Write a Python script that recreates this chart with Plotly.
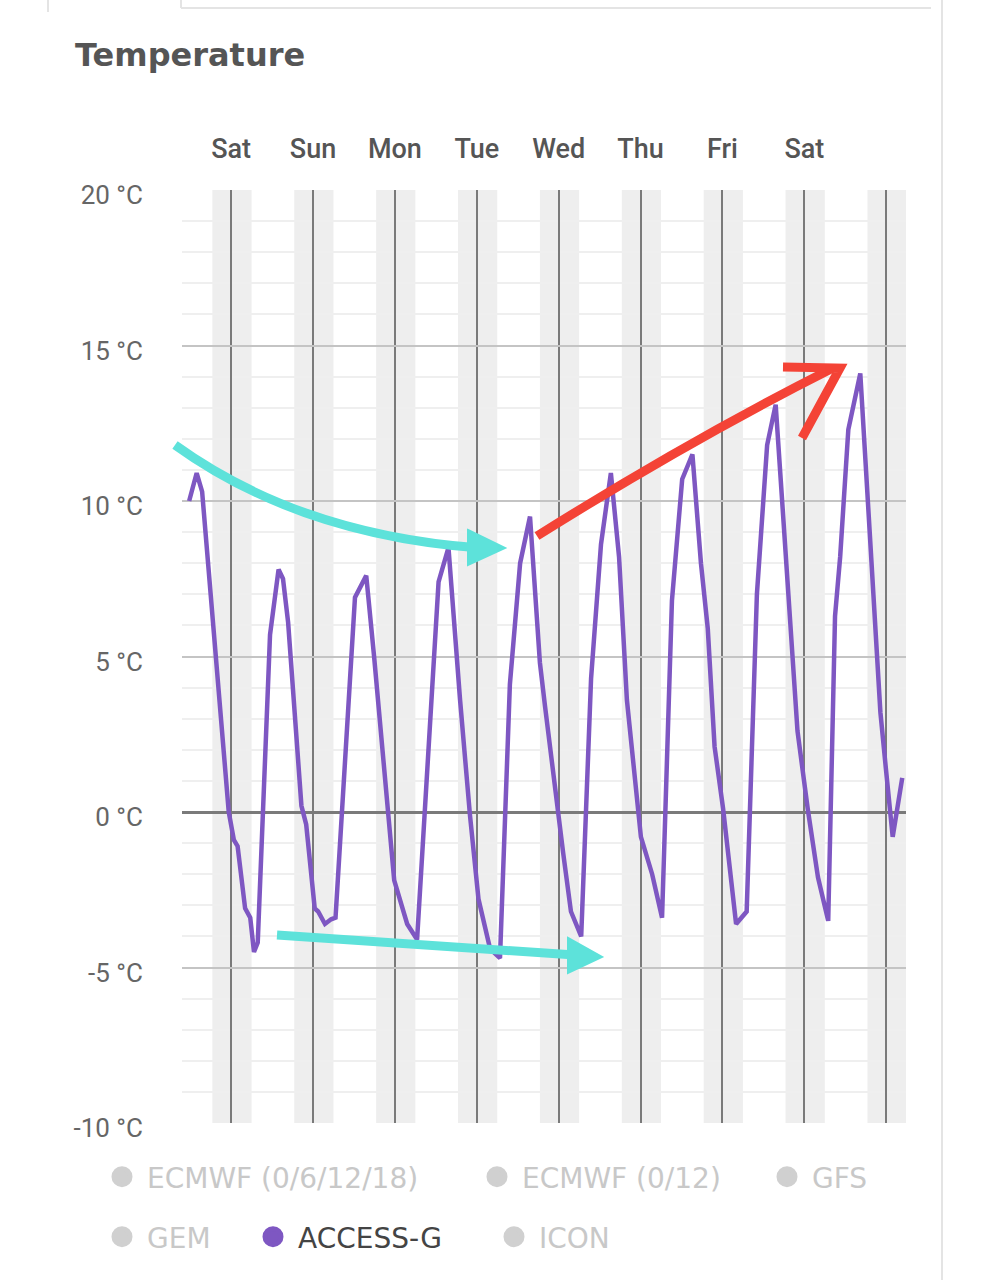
import plotly.graph_objects as go

# ---------------- data ----------------
# hours since first midnight (Sat 00:00)
hours = [-12.3, -10.1, -8.5, -5.0, -0.7, 0.8, 1.9, 4.1, 5.6, 6.7, 7.8, 11.4, 13.9, 15.2, 16.7,
         20.6, 22.0, 24.5, 25.5, 27.5, 29.3, 30.6, 36.3, 39.6, 41.9, 47.8, 49.2, 51.6, 54.5,
         60.8, 63.7, 67.1, 70.0, 72.5, 75.9, 78.8, 81.7, 84.7, 87.6, 90.5, 92.0, 95.2, 97.3,
         99.6, 102.6, 105.5, 108.4, 111.3, 113.7, 116.0, 120.1, 123.4, 126.3, 129.2, 132.2,
         135.2, 137.7, 139.7, 141.7, 144.2, 146.2, 148.0, 151.1, 154.1, 157.1, 159.6, 161.5,
         166.0, 169.0, 172.0, 175.0, 177.0, 178.5, 180.9, 184.4, 187.9, 190.3, 191.9, 193.9, 196.7]
access_g = [10.0, 10.9, 10.3, 5.5, 0.0, -0.9, -1.1, -3.1, -3.4, -4.5, -4.2, 5.7, 7.8, 7.5, 6.1,
            0.2, -0.4, -3.1, -3.2, -3.6, -3.45, -3.4, 6.9, 7.6, 5.0, -2.2, -2.7, -3.6, -4.1,
            7.4, 8.5, 3.6, -0.1, -2.8, -4.4, -4.7, 4.1, 8.0, 9.5, 4.8, 3.4, 0.4, -1.3,
            -3.2, -4.0, 4.3, 8.6, 10.9, 8.2, 3.6, -0.8, -2.0, -3.4, 6.8, 10.7,
            11.5, 8.0, 5.9, 2.1, 0.1, -1.7, -3.6, -3.2, 7.0, 11.8, 13.1, 10.0,
            2.6, 0.1, -2.1, -3.5, 6.3, 8.2, 12.3, 14.1, 7.8, 3.2, 1.4, -0.8, 1.1]

day_ticks = [0, 24, 48, 72, 96, 120, 144, 168, 192]
day_labels = ["Sat", "Sun", "Mon", "Tue", "Wed", "Thu", "Fri", "Sat", ""]
y_ticks = [-10, -5, 0, 5, 10, 15, 20]
y_labels = ["-10 °C", "-5 °C", "0 °C", "5 °C", "10 °C", "15 °C", "20 °C"]
models = ["ECMWF (0/6/12/18)", "ECMWF (0/12)", "GFS", "GEM", "ACCESS-G", "ICON"]
active_model = "ACCESS-G"
night_start, night_end = -5.5, 6.0   # shaded band around each day line (hours)

# ---------------- layout geometry ----------------
W, H = 981, 1280
L, R, T, B = 182, 906, 190, 1123
X_RANGE = [-14.4, 197.8]

def px(x):
    return (x - L) / (R - L)

def py(y):
    return (B - y) / (B - T)

fig = go.Figure()

# main line
fig.add_trace(go.Scatter(x=hours, y=access_g, mode="lines",
                         line=dict(color="#7e57c2", width=4.5),
                         showlegend=False, hoverinfo="skip"))

# legend entries (one legend per entry so positions match)
legend_pos = [(122, 1177), (497, 1177), (787, 1177), (122, 1237), (273, 1237), (514, 1237)]
legend_names = ["legend", "legend2", "legend3", "legend4", "legend5", "legend6"]
for i, name in enumerate(models):
    active = name == active_model
    col = "#7e57c2" if active else "#d0d0d0"
    fig.add_trace(go.Scatter(x=[None], y=[None], mode="markers", name=name,
                             marker=dict(color=col, size=16, line=dict(color=col, width=5)),
                             legend=legend_names[i], showlegend=True))

legend_layouts = {}
for i, ln in enumerate(legend_names):
    cx, cy = legend_pos[i]
    active = models[i] == active_model
    legend_layouts[ln] = dict(
        x=px(cx - 25), y=py(cy), xanchor="left", yanchor="middle",
        bgcolor="rgba(0,0,0,0)", borderwidth=0, itemwidth=40,
        font=dict(family="DejaVu Sans", size=28, color="#444444" if active else "#c8c8c8"),
        itemclick=False, itemdoubleclick=False)

shapes = []
# night bands
for d in day_ticks:
    shapes.append(dict(type="rect", xref="x", yref="paper", x0=d + night_start, x1=d + night_end,
                       y0=0, y1=1, fillcolor="#eeeeee", line_width=0, layer="below"))

# hand-drawn arrows overlay
def P(x, y):
    return f"{px(x):.5f},{py(y):.5f}"

cyan = "#5de2da"
red = "#f44336"
shapes += [
    dict(type="path", xref="paper", yref="paper",
         path=f"M {P(175,445)} Q {P(300,535)} {P(480,548)}", line=dict(color=cyan, width=9)),
    dict(type="path", xref="paper", yref="paper",
         path=f"M {P(468,530)} L {P(505,548)} L {P(468,565)} Z", fillcolor=cyan, line=dict(color=cyan, width=2)),
    dict(type="path", xref="paper", yref="paper",
         path=f"M {P(277,935)} Q {P(430,945)} {P(575,955)}", line=dict(color=cyan, width=9)),
    dict(type="path", xref="paper", yref="paper",
         path=f"M {P(568,938)} L {P(602,957)} L {P(568,973)} Z", fillcolor=cyan, line=dict(color=cyan, width=2)),
    dict(type="path", xref="paper", yref="paper",
         path=f"M {P(537,536)} Q {P(690,440)} {P(833,368)}", line=dict(color=red, width=9)),
    dict(type="path", xref="paper", yref="paper",
         path=f"M {P(783,367)} L {P(840,368)} L {P(802,438)}", line=dict(color=red, width=9)),
]

# card borders
shapes += [
    dict(type="line", xref="paper", yref="paper", x0=px(942), x1=px(942), y0=py(0), y1=py(1280),
         line=dict(color="#e4e4e4", width=2)),
    dict(type="line", xref="paper", yref="paper", x0=px(181), x1=px(931), y0=py(8), y1=py(8),
         line=dict(color="#e4e4e4", width=2)),
    dict(type="line", xref="paper", yref="paper", x0=px(181), x1=px(181), y0=py(0), y1=py(8),
         line=dict(color="#e4e4e4", width=2)),
    dict(type="line", xref="paper", yref="paper", x0=px(48), x1=px(48), y0=py(0), y1=py(12),
         line=dict(color="#e4e4e4", width=2)),
]

fig.update_layout(
    width=W, height=H,
    margin=dict(l=L, r=W - R, t=T, b=H - B),
    paper_bgcolor="white", plot_bgcolor="white",
    title=dict(text="<b>Temperature</b>", x=75 / W, xanchor="left", xref="container",
               y=1 - 55 / H, yanchor="middle", yref="container",
               font=dict(family="DejaVu Sans", size=32, color="#555555")),
    xaxis=dict(range=X_RANGE, side="top", tickmode="array", tickvals=day_ticks, ticktext=day_labels,
               showgrid=True, gridcolor="#7a7a7a", gridwidth=2, zeroline=False, showline=False,
               ticks="", ticklabelstandoff=26,
               tickfont=dict(family="Roboto", size=27, color="#555555", weight=500)),
    yaxis=dict(range=[-10, 20], tickmode="array", tickvals=y_ticks, ticktext=y_labels,
               showgrid=True, gridcolor="#c4c4c4", gridwidth=2,
               zeroline=True, zerolinecolor="#7a7a7a", zerolinewidth=3,
               minor=dict(dtick=1, showgrid=True, gridcolor="#efefef", gridwidth=1.5),
               showline=False, ticks="", ticklabelstandoff=38, ticklabelshift=5,
               tickfont=dict(family="Roboto", size=26, color="#666666")),
    shapes=shapes,
    hovermode=False,
    **legend_layouts,
)

fig.write_html("out.html")
